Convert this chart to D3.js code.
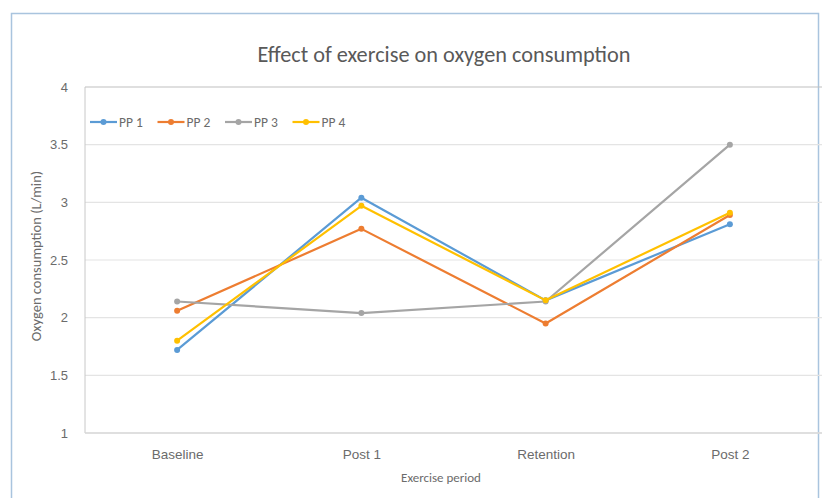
<!DOCTYPE html>
<html><head><meta charset="utf-8">
<script src="https://cdn.jsdelivr.net/npm/d3@7"></script>
<style>body{margin:0;background:#fff;}svg{display:block;font-family:Carlito,Calibri,Lato,sans-serif;}</style>
</head><body><svg id="c" width="823" height="498"></svg>
<script>
const categories = ["Baseline","Post 1","Retention","Post 2"];
const seriesNames = ["PP 1","PP 2","PP 3","PP 4"];
const pp1 = [1.72, 3.04, 2.15, 2.81];
const pp2 = [2.06, 2.77, 1.95, 2.89];
const pp3 = [2.14, 2.04, 2.14, 3.50];
const pp4 = [1.80, 2.97, 2.15, 2.91];
const yTicks = [1, 1.5, 2, 2.5, 3, 3.5, 4];
const colors = ["#5B9BD5","#ED7D31","#A5A5A5","#FFC000"];
const series = [pp1, pp2, pp3, pp4];

const svg = d3.select("#c");
const L = 85, R = 822, T = 87, B = 433;
svg.append("rect").attr("x",11.5).attr("y",13.5).attr("width",807).attr("height",500)
  .attr("fill","#fff").attr("stroke","#a9c4de").attr("stroke-width",1.5);

const x = d3.scalePoint().domain(categories).range([L, R]).padding(0.5);
const y = d3.scaleLinear().domain([1,4]).range([B, T]);

// gridlines
svg.append("g").selectAll("line").data(yTicks).join("line")
  .attr("x1",L).attr("x2",R).attr("y1",d=>y(d)).attr("y2",d=>y(d))
  .attr("stroke",d=>d===4?"#bfbfbf":"#e4e4e4").attr("stroke-width",1.2);
svg.append("line").attr("x1",L).attr("x2",L).attr("y1",T).attr("y2",B).attr("stroke","#c8c8c8");
svg.append("line").attr("x1",L).attr("x2",R).attr("y1",B).attr("y2",B).attr("stroke","#d9d9d9").attr("stroke-width",1.5);

// y axis
const ya = svg.append("g").attr("transform",`translate(${L-14},0)`)
  .call(d3.axisLeft(y).tickValues(yTicks).tickSize(0).tickFormat(d=>String(d)));
ya.select(".domain").remove();
ya.selectAll("text").attr("fill","#6b6b6b").attr("font-size",13);

// x axis
const xa = svg.append("g").attr("transform",`translate(0,${B+13})`)
  .call(d3.axisBottom(x).tickSize(0));
xa.select(".domain").remove();
xa.selectAll("text").attr("fill","#6b6b6b").attr("font-size",13.5);

// lines
const line = d3.line().x((d,i)=>x(categories[i])).y(d=>y(d));
series.forEach((s,k)=>{
  svg.append("path").datum(s).attr("d",line).attr("fill","none")
    .attr("stroke",colors[k]).attr("stroke-width",2.2).attr("stroke-linejoin","round");
  svg.append("g").selectAll("circle").data(s).join("circle")
    .attr("cx",(d,i)=>x(categories[i])).attr("cy",d=>y(d)).attr("r",3).attr("fill",colors[k]);
});

// title
svg.append("text").attr("x",444).attr("y",62).attr("text-anchor","middle")
  .attr("font-size",22.3).attr("fill","#595959").text("Effect of exercise on oxygen consumption");
// axis titles
svg.append("text").attr("x",441).attr("y",482).attr("text-anchor","middle")
  .attr("font-size",13).attr("fill","#6b6b6b").text("Exercise period");
svg.append("text").attr("transform","translate(41,256) rotate(-90)").attr("text-anchor","middle")
  .attr("font-size",14.5).attr("fill","#6b6b6b").text("Oxygen consumption (L/min)");

// legend
const lg = svg.append("g").attr("transform","translate(90,122)");
seriesNames.forEach((n,k)=>{
  const g = lg.append("g").attr("transform",`translate(${k*67.5},0)`);
  g.append("line").attr("x1",0).attr("x2",27).attr("y1",0).attr("y2",0).attr("stroke",colors[k]).attr("stroke-width",2.2);
  g.append("circle").attr("cx",13.5).attr("cy",0).attr("r",3).attr("fill",colors[k]);
  g.append("text").attr("x",29).attr("y",4.5).attr("font-size",13.5).attr("fill","#6b6b6b").text(n);
});
</script></body></html>
